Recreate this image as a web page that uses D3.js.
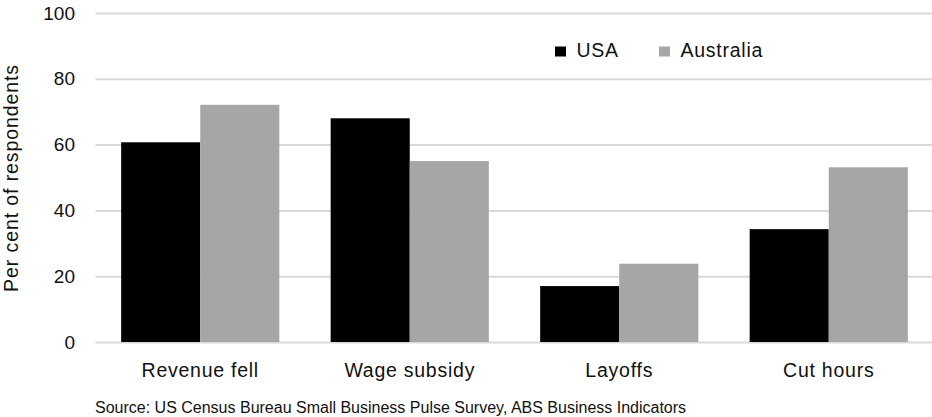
<!DOCTYPE html>
<html>
<head>
<meta charset="utf-8">
<script src="https://cdn.jsdelivr.net/npm/d3@7/dist/d3.min.js"></script>
<style>
  html, body { margin: 0; padding: 0; background: #fff; }
  svg { display: block; font-family: "Liberation Sans", Arial, Helvetica, sans-serif; }
</style>
</head>
<body>
<svg id="chart" width="932" height="417"></svg>
<script>
// Business responses to the downturn, per cent of respondents
const categories = ["Revenue fell", "Wage subsidy", "Layoffs", "Cut hours"];
const seriesNames = ["USA", "Australia"];
const usaValues = [60.7, 68.0, 17.0, 34.3];
const australiaValues = [72.1, 55.0, 23.8, 53.1];
const yTicks = [0, 20, 40, 60, 80, 100];
const yTitle = "Per cent of respondents";
const sourceNote = "Source: US Census Bureau Small Business Pulse Survey, ABS Business Indicators";

const colors = { "USA": "#000000", "Australia": "#a6a6a6" };
const series = [
  { name: seriesNames[0], values: usaValues },
  { name: seriesNames[1], values: australiaValues }
];

const textColor = "#111";
const svg = d3.select("#chart");

const x = d3.scaleBand()
  .domain(categories)
  .range([95.5, 933.5])
  .paddingInner(0.245)
  .paddingOuter(0.1225);

const xInner = d3.scaleBand()
  .domain(seriesNames)
  .range([0, x.bandwidth()])
  .padding(0);

const y = d3.scaleLinear().domain([0, 100]).range([342, 13]);

// Horizontal gridlines with tick labels on the left
const yAxis = d3.axisLeft(y)
  .tickValues(yTicks)
  .tickSize(-(940 - 95.5))
  .tickPadding(20.5)
  .tickFormat(d3.format("d"));

const gy = svg.append("g")
  .attr("transform", "translate(95.5,0)")
  .call(yAxis);
gy.select(".domain").remove();
gy.selectAll(".tick line").attr("stroke", "#d9d9d9").attr("stroke-width", 2);
gy.selectAll(".tick text")
  .attr("fill", textColor)
  .style("font-size", "19px")
  .style("font-family", "'Liberation Sans', Arial, sans-serif");

// Bars
const groups = svg.append("g")
  .selectAll("g")
  .data(categories)
  .join("g")
  .attr("transform", d => `translate(${x(d)},0)`);

groups.selectAll("rect")
  .data((d, i) => series.map(s => ({ name: s.name, value: s.values[i] })))
  .join("rect")
  .attr("x", d => xInner(d.name))
  .attr("width", xInner.bandwidth())
  .attr("y", d => y(d.value))
  .attr("height", d => y(0) - y(d.value))
  .attr("fill", d => colors[d.name]);

// Category labels
const xAxis = d3.axisBottom(x).tickSize(0).tickPadding(0);
const gx = svg.append("g")
  .attr("transform", `translate(0,${y(0)})`)
  .call(xAxis);
gx.select(".domain").remove();
gx.selectAll(".tick text")
  .attr("y", 35)
  .attr("dy", null)
  .attr("fill", textColor)
  .style("font-size", "19.5px")
  .style("letter-spacing", "0.75px")
  .style("font-family", "'Liberation Sans', Arial, sans-serif");

// Y axis title
svg.append("text")
  .attr("transform", "translate(17.5,178) rotate(-90)")
  .attr("text-anchor", "middle")
  .attr("fill", textColor)
  .style("font-size", "19.5px")
  .style("letter-spacing", "0.9px")
  .text(yTitle);

// Legend
const legend = svg.append("g").attr("transform", "translate(555,46.5)");
const legendX = [0, 104];
seriesNames.forEach((name, i) => {
  const g = legend.append("g").attr("transform", `translate(${legendX[i]},0)`);
  g.append("rect").attr("width", 11).attr("height", 10).attr("fill", colors[name]);
  g.append("text")
    .attr("x", 21.5)
    .attr("y", 10.2)
    .attr("fill", textColor)
    .style("font-size", "19.5px")
    .style("letter-spacing", "0.75px")
    .text(name);
});

// Source note
svg.append("text")
  .attr("x", 95)
  .attr("y", 413)
  .attr("fill", textColor)
  .style("font-size", "16px")
  .text(sourceNote);
</script>
</body>
</html>
